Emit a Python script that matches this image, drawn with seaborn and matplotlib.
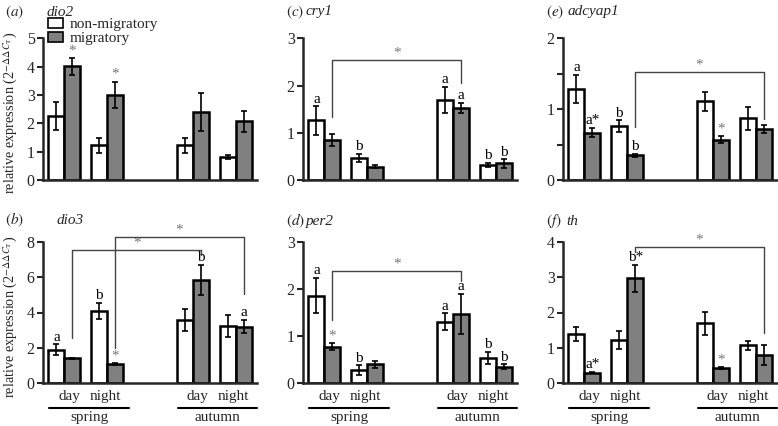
import numpy as np
import pandas as pd
import matplotlib
matplotlib.use("Agg")
import matplotlib.pyplot as plt
from matplotlib.patches import Patch
import seaborn as sns

# group positions: spring day, spring night, (gap), autumn day, autumn night
positions = [0, 1, 3, 4]
groups = ["non-migratory", "migratory"]

# panel values (mean, error)
dio2_non = [2.25, 1.22, 1.22, 0.82]
dio2_non_err = [0.50, 0.27, 0.27, 0.07]
dio2_mig = [4.01, 3.00, 2.41, 2.08]
dio2_mig_err = [0.30, 0.47, 0.67, 0.37]

dio3_non = [1.88, 4.08, 3.57, 3.25]
dio3_non_err = [0.30, 0.45, 0.65, 0.63]
dio3_mig = [1.38, 1.05, 5.85, 3.19]
dio3_mig_err = [0.05, 0.06, 0.85, 0.38]

cry1_non = [1.26, 0.47, 1.69, 0.32]
cry1_non_err = [0.30, 0.08, 0.28, 0.05]
cry1_mig = [0.84, 0.28, 1.52, 0.35]
cry1_mig_err = [0.13, 0.03, 0.11, 0.09]

per2_non = [1.86, 0.27, 1.30, 0.53]
per2_non_err = [0.38, 0.10, 0.18, 0.13]
per2_mig = [0.77, 0.39, 1.47, 0.34]
per2_mig_err = [0.07, 0.07, 0.43, 0.05]

adcyap1_non = [1.28, 0.76, 1.11, 0.87]
adcyap1_non_err = [0.20, 0.08, 0.13, 0.16]
adcyap1_mig = [0.67, 0.35, 0.57, 0.72]
adcyap1_mig_err = [0.07, 0.02, 0.05, 0.05]

th_non = [1.39, 1.22, 1.69, 1.07]
th_non_err = [0.20, 0.25, 0.33, 0.13]
th_mig = [0.29, 2.97, 0.41, 0.79]
th_mig_err = [0.02, 0.38, 0.03, 0.29]

# letters / stars: (group index, series, text)
dio2_marks = [(0, 1, "*"), (1, 1, "*")]
dio3_marks = [(0, 0, "a"), (1, 0, "b"), (1, 1, "*"), (2, 1, "b"), (3, 1, "a")]
cry1_marks = [(0, 0, "a"), (1, 0, "b"), (2, 0, "a"), (2, 1, "a"), (3, 0, "b"), (3, 1, "b")]
per2_marks = [(0, 0, "a"), (0, 1, "*"), (1, 0, "b"), (2, 0, "a"), (2, 1, "a"),
              (3, 0, "b"), (3, 1, "b")]
adcyap1_marks = [(0, 0, "a"), (0, 1, "a*"), (1, 0, "b"), (1, 1, "b"), (2, 1, "*")]
th_marks = [(0, 1, "a*"), (1, 1, "b*"), (2, 1, "*")]

# brackets between migratory bars: (from group, to group, left foot, top, right foot)
dio3_brackets = [(0, 2, 2.53, 7.56, 7.27), (1, 3, 1.97, 8.30, 5.05)]
cry1_brackets = [(0, 2, 1.34, 2.54, 2.06)]
per2_brackets = [(0, 2, 1.34, 2.39, 2.17)]
adcyap1_brackets = [(1, 3, 0.75, 1.52, 0.86)]
th_brackets = [(1, 3, 3.72, 3.87, 1.41)]

sns.set_style("ticks")
plt.rcParams["font.family"] = ["Liberation Serif", "DejaVu Serif"]
plt.rcParams["mathtext.fontset"] = "stix"

FS = 11
BAR_W = 0.75
OFF = BAR_W / 4
GRAY = "#808080"

fig = plt.figure(figsize=(7.78, 4.26), dpi=100)
W, H = 778, 426


def make_ax(x0, y_top, y_bot, x1):
    return fig.add_axes([x0 / W, 1 - y_bot / H, (x1 - x0) / W, (y_bot - y_top) / H])


def panel(ax, non, non_err, mig, mig_err, ymax, yticks, ylabels, marks, brackets):
    df = pd.DataFrame({
        "x": positions * 2,
        "group": [groups[0]] * 4 + [groups[1]] * 4,
        "value": non + mig,
    })
    sns.barplot(data=df, x="x", y="value", hue="group", hue_order=groups,
                palette={groups[0]: "white", groups[1]: GRAY}, saturation=1,
                native_scale=True, width=BAR_W, errorbar=None, legend=False,
                edgecolor="black", linewidth=1.8, ax=ax)
    xs = np.array(positions, dtype=float)
    vals = [np.array(non), np.array(mig)]
    errs = [np.array(non_err), np.array(mig_err)]
    for k, sgn in enumerate([-1, 1]):
        ax.errorbar(xs + sgn * OFF, vals[k], yerr=errs[k], fmt="none",
                    ecolor="black", elinewidth=1.2, capsize=2.5, capthick=1.2, zorder=5)
    for gi, s, txt in marks:
        x = positions[gi] + (-OFF if s == 0 else OFF)
        y = vals[s][gi] + errs[s][gi] + ymax * 0.005
        color = "#777777" if txt == "*" else "black"
        ax.text(x, y, txt, ha="center", va="bottom", fontsize=FS, color=color,
                clip_on=False)
    for g1, g2, yl, yt, yr in brackets:
        xa = positions[g1] + OFF
        xb = positions[g2] + OFF
        ax.plot([xa, xa, xb, xb], [yl, yt, yt, yr], color="#444444", lw=1.0,
                clip_on=False, zorder=6)
        ax.text((xa + xb) / 2, yt + ymax * 0.005, "*", ha="center", va="bottom",
                fontsize=FS, color="#777777", clip_on=False)
    ax.set_xlim(-0.5, 4.5)
    ax.set_ylim(0, ymax)
    ax.set_yticks(yticks)
    ax.set_yticklabels(ylabels)
    ax.set_xticks([])
    ax.set_xlabel("")
    ax.set_ylabel("")
    sns.despine(ax=ax)
    for sp in ["left", "bottom"]:
        ax.spines[sp].set_linewidth(1.8)
    ax.tick_params(axis="y", direction="out", length=4, width=1.5, labelsize=FS + 0.5,
                   pad=2)


def season_labels(ax):
    tr = ax.get_xaxis_transform()
    for x, t in [(0.12, "day"), (0.95, "night"), (3.12, "day"), (3.95, "night")]:
        ax.text(x, -0.10, t, transform=tr, ha="center", va="center", fontsize=FS)
    for x0, x1, t in [(-0.35, 1.5, "spring"), (2.65, 4.5, "autumn")]:
        ax.plot([x0, x1], [-0.18, -0.18], transform=tr, color="black", lw=1.5,
                clip_on=False)
        ax.text((x0 + x1) / 2, -0.25, t, transform=tr, ha="center", va="center",
                fontsize=FS)


xl = [(43, 257), (303, 517), (563, 777)]
top = (38.3, 180)
bot = (242.3, 382.7)

ax_a = make_ax(xl[0][0], top[0], top[1], xl[0][1])
ax_c = make_ax(xl[1][0], top[0], top[1], xl[1][1])
ax_e = make_ax(xl[2][0], top[0], top[1], xl[2][1])
ax_b = make_ax(xl[0][0], bot[0], bot[1], xl[0][1])
ax_d = make_ax(xl[1][0], bot[0], bot[1], xl[1][1])
ax_f = make_ax(xl[2][0], bot[0], bot[1], xl[2][1])

panel(ax_a, dio2_non, dio2_non_err, dio2_mig, dio2_mig_err, 5,
      [0, 1, 2, 3, 4, 5], ["0", "1", "2", "3", "4", "5"], dio2_marks, [])
panel(ax_b, dio3_non, dio3_non_err, dio3_mig, dio3_mig_err, 8,
      [0, 2, 4, 6, 8], ["0", "2", "4", "6", "8"], dio3_marks, dio3_brackets)
panel(ax_c, cry1_non, cry1_non_err, cry1_mig, cry1_mig_err, 3,
      [0, 1, 2, 3], ["0", "1", "2", "3"], cry1_marks, cry1_brackets)
panel(ax_d, per2_non, per2_non_err, per2_mig, per2_mig_err, 3,
      [0, 1, 2, 3], ["0", "1", "2", "3"], per2_marks, per2_brackets)
panel(ax_e, adcyap1_non, adcyap1_non_err, adcyap1_mig, adcyap1_mig_err, 2,
      [0, 0.5, 1, 1.5, 2], ["0", "", "1", "", "2"], adcyap1_marks, adcyap1_brackets)
panel(ax_f, th_non, th_non_err, th_mig, th_mig_err, 4,
      [0, 1, 2, 3, 4], ["0", "1", "2", "3", "4"], th_marks, th_brackets)

for ax in (ax_b, ax_d, ax_f):
    season_labels(ax)

ylab = r"relative expression (2$^{-\Delta\Delta C_{\mathrm{T}}}$)"
for ax in (ax_a, ax_b):
    ax.set_ylabel(ylab, fontsize=10.3)
    ax.yaxis.set_label_coords(-0.107, 0.47)

# panel titles
titles = [
    (5, 12, "a", 47, "dio2"),
    (5, 220, "b", 57, "dio3"),
    (286, 12, "c", 306, "cry1"),
    (286, 221, "d", 306, "per2"),
    (546, 12, "e", 568, "adcyap1"),
    (546, 221, "f", 566, "th"),
]
for xp, yp, letter, xg, gene in titles:
    fig.text(xp / W, 1 - yp / H, r"$(\mathit{" + letter + "})$",
             ha="left", va="center", fontsize=FS)
    fig.text(xg / W, 1 - yp / H, gene, ha="left", va="center", fontsize=FS,
             style="italic")

handles = [Patch(facecolor="white", edgecolor="black", lw=1.2),
           Patch(facecolor=GRAY, edgecolor="black", lw=1.2)]
ax_a.legend(handles, groups, loc="upper left", bbox_to_anchor=(48 / W, 1 - 18 / H),
            bbox_transform=fig.transFigure, frameon=False, fontsize=FS,
            handlelength=1.0, handleheight=0.6, handletextpad=0.4,
            borderpad=0, borderaxespad=0, labelspacing=0.05)

fig.savefig("out.png", dpi=100)
